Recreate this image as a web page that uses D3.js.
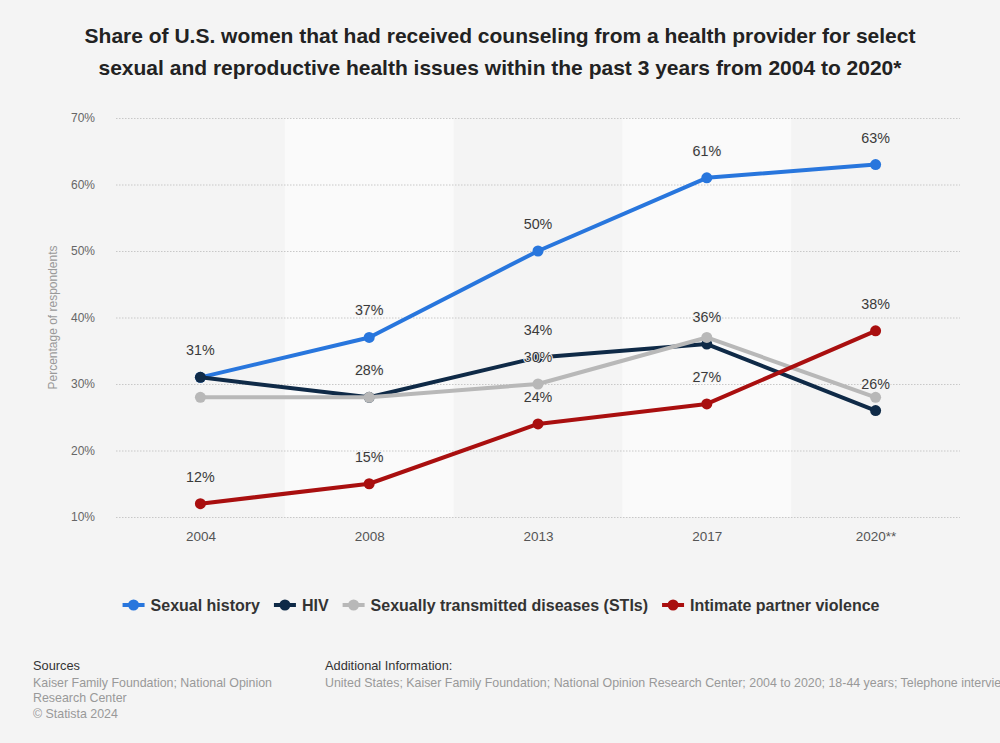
<!DOCTYPE html>
<html>
<head>
<meta charset="utf-8">
<script src="https://cdn.jsdelivr.net/npm/d3@7"></script>
<style>
  html, body { margin: 0; padding: 0; background: #f4f4f4; }
  svg { display: block; font-family: "Liberation Sans", Arial, sans-serif; }
</style>
</head>
<body>
<svg id="chart" width="1000" height="743"></svg>
<script>
const years = ["2004", "2008", "2013", "2017", "2020**"];
const seriesNames = ["Sexual history", "HIV", "Sexually transmitted diseases (STIs)", "Intimate partner violence"];
const sexualHistory = [31, 37, 50, 61, 63];
const hiv = [31, 28, 34, 36, 26];
const stis = [28, 28, 30, 37, 28];
const ipv = [12, 15, 24, 27, 38];
const seriesColors = ["#2876dd", "#0f2a47", "#b8b8b8", "#a90f0f"];
// which data labels are visible (others are hidden behind overlaps)
const labelVisible = [
  [1, 1, 1, 1, 1],
  [0, 1, 1, 1, 1],
  [0, 0, 1, 0, 0],
  [1, 1, 1, 1, 1]
];
const yTicks = [10, 20, 30, 40, 50, 60, 70];

const series = [sexualHistory, hiv, stis, ipv].map((vals, i) => ({
  name: seriesNames[i], color: seriesColors[i], values: vals, show: labelVisible[i]
}));

const svg = d3.select("#chart");
const pLeft = 116, pRight = 960, pTop = 118, pBottom = 517;

const x = d3.scalePoint().domain(years).range([pLeft, pRight]).padding(0.5);
const y = d3.scaleLinear().domain([10, 70]).range([pBottom, pTop]);
const step = x.step();

// alternating column bands
svg.append("g").selectAll("rect")
  .data(years.filter((d, i) => i % 2 === 1))
  .join("rect")
  .attr("x", d => x(d) - step / 2)
  .attr("y", pTop)
  .attr("width", step)
  .attr("height", pBottom - pTop)
  .attr("fill", "#fafafa");

// gridlines
svg.append("g").selectAll("line")
  .data(yTicks)
  .join("line")
  .attr("x1", pLeft).attr("x2", pRight)
  .attr("y1", d => y(d) + 0.5).attr("y2", d => y(d) + 0.5)
  .attr("stroke", "#c8c8c8")
  .attr("stroke-width", 1)
  .attr("stroke-dasharray", "1.5,1.5");

// y tick labels
const yAxis = svg.append("g").attr("transform", `translate(${pLeft - 21},0)`)
  .call(d3.axisLeft(y).tickValues(yTicks).tickFormat(d => d + "%").tickSize(0).tickPadding(0));
yAxis.select(".domain").remove();
yAxis.selectAll("text").attr("font-size", 12).attr("fill", "#666").attr("font-family", "Liberation Sans, Arial, sans-serif");

// x tick labels
const xAxis = svg.append("g").attr("transform", `translate(0,${pBottom + 14})`)
  .call(d3.axisBottom(x).tickSize(0).tickPadding(0));
xAxis.select(".domain").remove();
xAxis.selectAll("text").attr("font-size", 13.5).attr("fill", "#555").attr("font-family", "Liberation Sans, Arial, sans-serif");

// y axis title
svg.append("text")
  .attr("transform", `translate(57,${(pTop + pBottom) / 2}) rotate(-90)`)
  .attr("text-anchor", "middle")
  .attr("font-size", 12)
  .attr("fill", "#999")
  .text("Percentage of respondents");

// lines
const line = d3.line().x((d, i) => x(years[i])).y(d => y(d));
const gLines = svg.append("g");
series.forEach(s => {
  gLines.append("path")
    .datum(s.values)
    .attr("d", line)
    .attr("fill", "none")
    .attr("stroke", s.color)
    .attr("stroke-width", 4)
    .attr("stroke-linejoin", "round");
  gLines.append("g").selectAll("circle")
    .data(s.values)
    .join("circle")
    .attr("cx", (d, i) => x(years[i]))
    .attr("cy", d => y(d))
    .attr("r", 5.5)
    .attr("fill", s.color);
});

// data labels
const gLab = svg.append("g");
series.forEach(s => {
  s.values.forEach((v, i) => {
    if (!s.show[i]) return;
    gLab.append("text")
      .attr("x", x(years[i]))
      .attr("y", y(v) - 27)
      .attr("dy", "0.35em")
      .attr("text-anchor", "middle")
      .attr("font-size", 14.3)
      .attr("fill", "#3a3a3a")
      .attr("stroke", "#f4f4f4")
      .attr("stroke-width", 2)
      .attr("paint-order", "stroke")
      .text(v + "%");
  });
});

// title
const title = svg.append("text")
  .attr("text-anchor", "middle")
  .attr("font-size", 21)
  .attr("font-weight", "bold")
  .attr("fill", "#222");
title.append("tspan").attr("x", 500).attr("y", 43)
  .text("Share of U.S. women that had received counseling from a health provider for select");
title.append("tspan").attr("x", 500).attr("y", 75)
  .text("sexual and reproductive health issues within the past 3 years from 2004 to 2020*");

// legend
const legend = svg.append("g");
let lx = 0;
series.forEach(s => {
  const g = legend.append("g").attr("transform", `translate(${lx},0)`);
  g.append("line").attr("x1", 0).attr("x2", 22).attr("y1", 0).attr("y2", 0)
    .attr("stroke", s.color).attr("stroke-width", 4);
  g.append("circle").attr("cx", 11).attr("cy", 0).attr("r", 5.5).attr("fill", s.color);
  const t = g.append("text").attr("x", 28).attr("dy", "0.35em")
    .attr("font-size", 16).attr("font-weight", "bold").attr("fill", "#333").text(s.name);
  const w = t.node().getComputedTextLength();
  lx += 28 + w + 14;
});
const totalW = lx - 14;
legend.attr("transform", `translate(${501 - totalW / 2},605)`);

// footer
const foot = svg.append("g").attr("font-size", 12.4);
foot.append("text").attr("x", 33).attr("y", 670).attr("font-size", 12.8).attr("fill", "#333").text("Sources");
[["Kaiser Family Foundation; National Opinion", 687], ["Research Center", 702], ["© Statista 2024", 718]]
  .forEach(([t, yy]) => foot.append("text").attr("x", 33).attr("y", yy).attr("fill", "#999").text(t));
foot.append("text").attr("x", 325).attr("y", 670).attr("font-size", 12.8).attr("fill", "#333").text("Additional Information:");
foot.append("text").attr("x", 325).attr("y", 687).attr("fill", "#999")
  .text("United States; Kaiser Family Foundation; National Opinion Research Center; 2004 to 2020; 18-44 years; Telephone interview");
</script>
</body>
</html>
